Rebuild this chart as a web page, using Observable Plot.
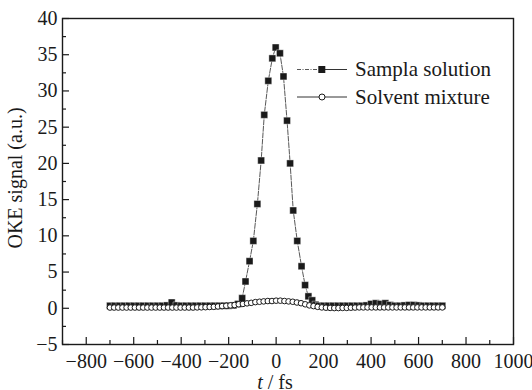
<!DOCTYPE html>
<html><head><meta charset="utf-8">
<script src="https://cdn.jsdelivr.net/npm/d3@7"></script>
<script src="https://cdn.jsdelivr.net/npm/@observablehq/plot@0.6"></script>
<style>
body{margin:0;background:#fff}
#chart svg{display:block}
</style>
</head><body><div id="chart"></div>
<script>
// Sampla solution (filled squares)
const tSample = [-700,-680,-660,-640,-620,-600,-580,-560,-540,-520,-500,-480,-460,-440,-420,-400,-380,-360,-340,-320,-300,-280,-260,-240,-220,-200,-180,-160,
  -143,-129,-112,-96,-79,-63,-50,-33,-16,-2,16,31,46,59,72,89,107,122,136,152,
  166,180,200,220,240,260,280,300,320,340,360,380,400,420,440,460,480,500,520,540,560,580,600,620,640,660,680,700];
const vSample = [0.35,0.35,0.35,0.35,0.35,0.35,0.35,0.35,0.35,0.35,0.35,0.35,0.4,0.8,0.4,0.35,0.35,0.35,0.35,0.35,0.35,0.35,0.35,0.35,0.35,0.35,0.4,0.6,
  1.4,3.7,6.5,9.3,14.4,20.4,26.7,31.4,34.5,36.0,35.2,32.0,25.9,20.0,13.5,9.3,5.8,3.2,1.65,1.1,
  0.5,0.35,0.35,0.35,0.35,0.35,0.35,0.35,0.35,0.35,0.35,0.4,0.6,0.7,0.6,0.7,0.45,0.35,0.35,0.4,0.45,0.45,0.4,0.35,0.35,0.35,0.35,0.35];
// Solvent mixture (open circles)
const tSolvent = [-700,-682.5,-665,-647.5,-630,-612.5,-595,-577.5,-560,-542.5,-525,-507.5,-490,-472.5,-455,-437.5,-420,-402.5,-385,-367.5,-350,-332.5,-315,
  -297.5,-280,-262.5,-245,-227.5,-210,-192.5,-175,-157.5,-140,-122.5,-105,-87.5,-70,-52.5,-35,-17.5,0,17.5,35,52.5,70,87.5,105,122.5,140,157.5,175,192.5,210,227.5,245,262.5,280,297.5,315,332.5,
  350,367.5,385,402.5,420,437.5,455,472.5,490,507.5,525,542.5,560,577.5,595,612.5,630,647.5,665,682.5,700];
const vSolvent = [0.1,0.1,0.1,0.1,0.1,0.1,0.1,0.1,0.1,0.1,0.1,0.1,0.1,0.1,0.1,0.1,0.1,0.1,0.1,0.1,0.1,0.12,0.13,
  0.15,0.18,0.2,0.25,0.3,0.35,0.4,0.45,0.55,0.6,0.68,0.75,0.85,0.9,0.95,1.0,1.0,1.05,1.05,1.0,0.95,0.9,0.8,0.7,0.55,0.4,0.3,0.2,0.12,0.08,0.05,0.03,0.03,0.05,0.05,0.08,0.1,
  0.12,0.12,0.12,0.12,0.12,0.12,0.12,0.12,0.12,0.12,0.12,0.12,0.12,0.12,0.12,0.12,0.12,0.12,0.12,0.12,0.12];
// Axis ticks
const xMajor = [-800,-600,-400,-200,0,200,400,600,800,1000];
const xMinor = [-900,-700,-500,-300,-100,100,300,500,700,900];
const yMajor = [-5,0,5,10,15,20,25,30,35,40];
const yMinor = [-2.5,2.5,7.5,12.5,17.5,22.5,27.5,32.5,37.5];
const seriesNames = ["Sampla solution","Solvent mixture"];

const sample = tSample.map((t,i)=>({t, v:vSample[i]}));
const solvent = tSolvent.map((t,i)=>({t, v:vSolvent[i]}));
const fmt = d => d < 0 ? "\u2212" + Math.abs(d) : String(d);
const ink = "#1a1a1a";
const serif = "'Liberation Serif', 'Times New Roman', serif";

const plot = Plot.plot({
  width: 532, height: 390,
  marginLeft: 62, marginRight: 19, marginTop: 18, marginBottom: 46,
  style: {fontSize: "20px", color: ink, background: "#fff", overflow: "hidden"},
  x: {domain: [-900, 1000]},
  y: {domain: [-5, 40]},
  marks: [
    Plot.frame({stroke: ink, strokeWidth: 1.4}),
    Plot.axisX(xMajor, {tickSize: 0, tickPadding: 9, tickFormat: fmt, label: null, fontSize: 20}),
    Plot.axisX(xMajor, {tickSize: -7, tickFormat: () => "", label: null, strokeWidth: 1.2}),
    Plot.axisX(xMinor, {tickSize: -4, tickFormat: () => "", label: null, strokeWidth: 1.2}),
    Plot.axisY(yMajor, {tickSize: 0, tickPadding: 5, tickFormat: fmt, label: null, fontSize: 20}),
    Plot.axisY(yMajor, {tickSize: -7, tickFormat: () => "", label: null, strokeWidth: 1.2}),
    Plot.axisY(yMinor, {tickSize: -4, tickFormat: () => "", label: null, strokeWidth: 1.2}),
    Plot.line(solvent, {x: "t", y: "v", stroke: "#333", strokeWidth: 0.8}),
    Plot.line(sample, {x: "t", y: "v", stroke: "#444", strokeWidth: 0.9, strokeDasharray: "5,1.5"}),
    Plot.dot(sample, {x: "t", y: "v", symbol: "square", r: 3.9, fill: "#1a1a1a", stroke: "#fff", strokeWidth: 0.4}),
    Plot.dot(solvent, {x: "t", y: "v", symbol: "circle", r: 2.8, fill: "#fff", stroke: "#1a1a1a", strokeWidth: 1})
  ]
});

const svg = d3.select(plot);
// y-axis title
svg.append("text").attr("transform","translate(22,178) rotate(-90)")
  .attr("text-anchor","middle").attr("font-size",20).attr("fill",ink).text("OKE signal (a.u.)");
// x-axis title
const xt = svg.append("text").attr("x",275).attr("y",389).attr("text-anchor","middle").attr("font-size",20).attr("fill",ink);
xt.append("tspan").attr("font-style","italic").text("t");
xt.append("tspan").text(" / fs");
// legend
const lg = svg.append("g").attr("fill",ink).attr("text-anchor","start");
const rows = [69.5, 97];
lg.append("line").attr("x1",297).attr("x2",318).attr("y1",rows[0]).attr("y2",rows[0]).attr("stroke","#444").attr("stroke-width",0.9).attr("stroke-dasharray","4,1.5,1,1.5");
lg.append("line").attr("x1",325).attr("x2",347).attr("y1",rows[0]).attr("y2",rows[0]).attr("stroke","#333").attr("stroke-width",1);
lg.append("rect").attr("x",318.3).attr("y",rows[0]-3.5).attr("width",7).attr("height",7).attr("fill",ink);
lg.append("text").attr("x",355).attr("y",rows[0]).attr("dy","0.33em").attr("font-size",21).text(seriesNames[0]);
lg.append("line").attr("x1",297).attr("x2",347).attr("y1",rows[1]).attr("y2",rows[1]).attr("stroke","#333").attr("stroke-width",1);
lg.append("circle").attr("cx",322).attr("cy",rows[1]).attr("r",3).attr("fill","#fff").attr("stroke",ink).attr("stroke-width",1);
lg.append("text").attr("x",355).attr("y",rows[1]).attr("dy","0.33em").attr("font-size",21).text(seriesNames[1]);

// serif for every text in the chart
svg.attr("font-family", serif).style("font-family", serif);
svg.selectAll("[font-variant]").attr("font-variant", null);
svg.selectAll("text").style("font-family", serif).style("font-variant", "normal");

document.getElementById("chart").append(plot);
</script>
</body></html>
